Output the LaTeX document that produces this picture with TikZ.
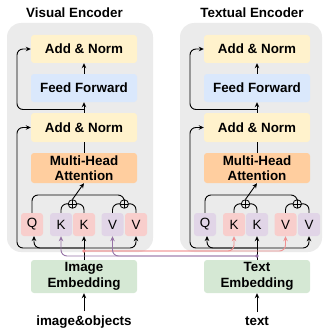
\documentclass[tikz,border=0pt]{standalone}
\usepackage{fontspec}
\setmainfont{Liberation Sans}
\usetikzlibrary{arrows.meta,calc}
\definecolor{panelgray}{HTML}{EBEBEB}
\definecolor{cyellow}{HTML}{FFF2CC}
\definecolor{cblue}{HTML}{DAE8FC}
\definecolor{corange}{HTML}{FFCE9F}
\definecolor{cgreen}{HTML}{D5E8D4}
\definecolor{cpink}{HTML}{F8CECC}
\definecolor{cpurple}{HTML}{E1D5E7}
\definecolor{lpink}{HTML}{F09090}
\definecolor{lpurple}{HTML}{9673A6}
\tikzset{
  blk/.style={rounded corners=3pt, minimum width=106pt, minimum height=28pt, inner sep=0pt, align=center, font=\bfseries\fontsize{13.4}{15.5}\selectfont},
  tok/.style={rounded corners=3pt, minimum width=22pt, minimum height=23pt, inner sep=0pt, font=\fontsize{13.4}{15}\selectfont},
  lbl/.style={inner sep=0pt, font=\bfseries\fontsize{13.4}{15.5}\selectfont},
  ln/.style={line width=0.9pt},
  conn/.style={line width=0.9pt, -{Stealth[length=5pt,width=4.5pt]}},
  oplus/.style={circle, draw, line width=0.8pt, minimum size=8.5pt, inner sep=0pt, fill=panelgray,
    path picture={\draw[line width=0.8pt] (path picture bounding box.north) -- (path picture bounding box.south) (path picture bounding box.west) -- (path picture bounding box.east);}},
}
% #1 prefix, #2 shift, #3 colour A, #4 colour B, #5 panel right, #6 embedding text, #7 input text
\newcommand\encpanel[7]{%
\begin{scope}[xshift=#2pt]
 \fill[panelgray, rounded corners=14pt] (7,23) rectangle (#5,252);
 \node[blk, fill=cyellow] (#1an1) at (84,49) {Add \& Norm};
 \node[blk, fill=cblue] (#1ff) at (84,88) {Feed Forward};
 \node[blk, fill=cyellow, minimum height=29pt] (#1an2) at (84,127.5) {Add \& Norm};
 \node[blk, fill=corange, minimum height=30pt] (#1mha) at (84,168) {Multi-Head\\Attention};
 \node[tok, fill=#3] (#1q) at (32,224.5) {Q};
 \node[tok, fill=#4] (#1ka) at (61,224.5) {K};
 \node[tok, fill=#3] (#1kb) at (84,224.5) {K};
 \node[tok, fill=#4] (#1va) at (112.5,224.5) {V};
 \node[tok, fill=#3] (#1vb) at (136,224.5) {V};
 \node[blk, fill=cgreen, minimum height=33pt] (#1emb) at (84,276.5) {#6};
 \node[lbl, anchor=base] (#1in) at (84,325) {#7};
 \coordinate (#1b1) at (84,109.5);
 \coordinate (#1r1) at (17,49);
 \coordinate (#1r2) at (17,127.5);
 \coordinate (#1j) at (84,248);
 \coordinate (#1h) at (124,195);
 \coordinate (#1qb) at (34,236);
 % top part
 \draw[conn] (#1ff.north) -- (#1an1.south);
 \draw[conn] (#1an2.north) -- (#1ff.south);
 \draw[conn, rounded corners=6pt] (#1b1) -| (#1r1) -- (#1an1.west);
 \draw[ln] (#1mha.north) -- (#1an2.south);
 % attention inputs
 \draw[ln, rounded corners=6pt] (#1ka.north) |- ($(#1ka.north)!0.5!(#1kb.north)+(-4.25,-9)$);
 \draw[ln, rounded corners=6pt] (#1kb.north) |- ($(#1ka.north)!0.5!(#1kb.north)+(4.25,-9)$);
 \draw[ln, rounded corners=6pt] (#1va.north) |- ($(#1va.north)!0.5!(#1vb.north)+(-4.25,-9)$);
 \draw[ln, rounded corners=6pt] (#1vb.north) |- ($(#1va.north)!0.5!(#1vb.north)+(4.25,-9)$);
 \node[oplus] (#1kp) at (72.5,204) {};
 \node[oplus] (#1vp) at (124.25,204) {};
 \draw[ln, rounded corners=6pt] (#1q.north) |- (#1h) -- (#1vp.north);
 \draw[conn] (#1kp.north) -- (#1mha.south);
 % bottom part
 \draw[conn] (#1emb.north) -- (#1kb.south);
 \draw[conn, rounded corners=6pt] (#1j) -| (#1qb);
 \draw[conn, rounded corners=6pt] (#1j) -| (#1vb.south);
 \draw[conn, rounded corners=6pt] (#1j) -| (#1r2) -- (#1an2.west);
 \draw[conn] ($(#1in.north)+(0,-4)$) -- (#1emb.south);
\end{scope}}
\begin{document}
\begin{tikzpicture}[x=1pt,y=-1pt]
\useasboundingbox (0,0) rectangle (323,329);
\node[lbl, anchor=base] (t1) at (74.5,18) {Visual Encoder};
\node[lbl, anchor=base] (t2) at (252,18) {Textual Encoder};
\encpanel{L}{0}{cpink}{cpurple}{153}{Image\\Embedding}{image\&objects}
\encpanel{R}{173}{cpurple}{cpink}{149}{Text\\Embedding}{text}
\coordinate (pdot) at (84,251);
\coordinate (udot) at (257,256);
\draw[conn, lpink, rounded corners=6pt] (pdot) -| (Rka.south);
\draw[conn, lpink, rounded corners=6pt] (pdot) -| (Rva.south);
\fill[lpink] (pdot) circle (1.8pt);
\draw[conn, lpurple, rounded corners=6pt] (udot) -| (Lka.south);
\draw[conn, lpurple, rounded corners=6pt] (udot) -| (Lva.south);
\fill[lpurple] (udot) circle (1.8pt);
\end{tikzpicture}
\end{document}
